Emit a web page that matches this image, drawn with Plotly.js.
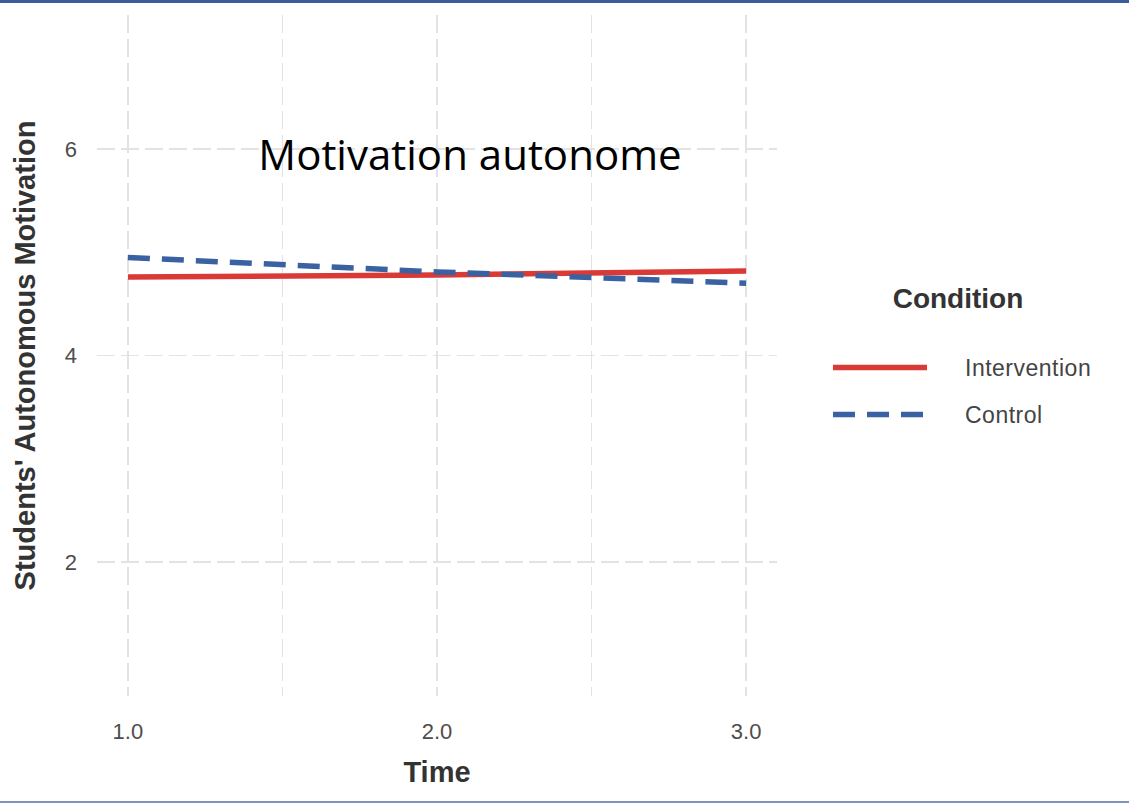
<!DOCTYPE html>
<html><head><meta charset="utf-8">
<script src="https://cdn.plot.ly/plotly-3.0.1.min.js"></script>
<style>
html,body{margin:0;padding:0;background:#fff;}
#wrap{position:relative;width:1129px;height:804px;overflow:hidden;}
#chart{width:1129px;height:804px;}
#topbar{position:absolute;left:0;top:0;width:1129px;height:3px;background:#3d5c9e;}
#botbar{position:absolute;left:0;top:801px;width:1129px;height:2px;background:#8193bd;}
.legend .scrollbox{clip-path:none !important;}
.legend .legendtext{transform:translateX(33px);letter-spacing:0.5px;}
.legend .legendtitletext{transform:translate(15px,-2px);}
</style></head><body>
<div id="wrap"><div id="chart"></div><div id="topbar"></div><div id="botbar"></div></div>
<script>
const time = [1, 2, 3];
const intervention = [4.76, 4.78, 4.82];
const control = [4.95, 4.81, 4.70];
const seriesNames = ['Intervention', 'Control'];
const xTickVals = [1, 1.5, 2, 2.5, 3];
const xTickText = ['1.0', '', '2.0', '', '3.0'];
const yTickVals = [2, 4, 6];
const yTickText = ['2', '4', '6'];

const RED = '#d93a36';
const BLUE = '#3a62a2';

const traces = [
  {x: time, y: intervention, name: seriesNames[0], type: 'scatter', mode: 'lines',
   legendgroup: 'g1', line: {color: RED, width: 5.5}},
  {x: time, y: control, name: seriesNames[1], type: 'scatter', mode: 'lines',
   legendgroup: 'g2', line: {color: BLUE, width: 5.5, dash: '22px,12px'}}
];

const gridStyle = {gridcolor: '#e3e3e3', gridwidth: 1.5, griddash: '18px,6px'};

const layout = {
  width: 1129, height: 804,
  paper_bgcolor: '#ffffff', plot_bgcolor: '#ffffff',
  margin: {l: 97, r: 352, t: 15, b: 108},
  font: {family: 'Liberation Sans, Arial, sans-serif', color: '#444'},
  title: {text: 'Motivation autonome', font: {family: 'Open Sans', size: 42, color: '#000'},
          x: 0.4163, xref: 'container', xanchor: 'center', y: 0.807, yref: 'container', yanchor: 'middle'},
  xaxis: Object.assign({
    range: [0.9, 3.1], tickvals: xTickVals, ticktext: xTickText, showgrid: true,
    zeroline: false, showline: false, ticks: '', ticklabelstandoff: 20,
    tickfont: {size: 22, color: '#4d4d4d'},
    title: {text: 'Time', font: {size: 29, color: '#333', weight: 'bold'}, standoff: 18}
  }, gridStyle),
  yaxis: Object.assign({
    range: [0.7, 7.3], tickvals: yTickVals, ticktext: yTickText, showgrid: true,
    zeroline: false, showline: false, ticks: '', ticklabelstandoff: 19,
    tickfont: {size: 22, color: '#4d4d4d'},
    title: {text: "Students' Autonomous Motivation", font: {size: 29, color: '#333', weight: 'bold'}, standoff: 20}
  }, gridStyle),
  showlegend: true,
  legend: {
    x: 1.075, xanchor: 'left', y: 0.6208, yanchor: 'top',
    bgcolor: 'rgba(0,0,0,0)', borderwidth: 0,
    itemwidth: 94, traceorder: 'grouped', tracegroupgap: 14,
    font: {size: 23, color: '#444'},
    title: {text: 'Condition<br> ', side: 'top center', font: {size: 28, color: '#333', weight: 'bold'}}
  }
};

Plotly.newPlot('chart', traces, layout, {displayModeBar: false, staticPlot: true});
</script>
</body></html>
